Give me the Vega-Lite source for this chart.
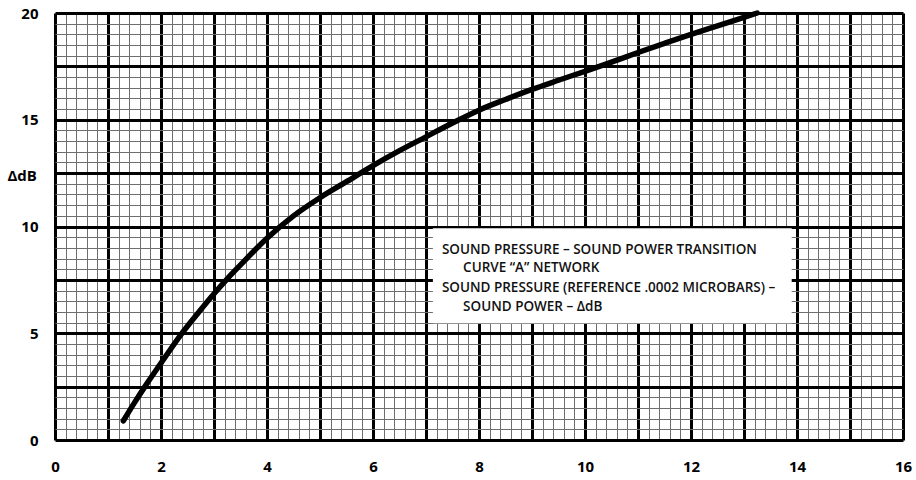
{
  "$schema": "https://vega.github.io/schema/vega-lite/v6.json",
  "width": 848,
  "height": 427,
  "autosize": {"type": "none"},
  "padding": {"left": 55, "top": 13, "right": 13, "bottom": 40},
  "background": "white",
  "view": {"stroke": null},
  "datasets": {
    "curve": [
      {"x": 1.29, "y": 0.9},
      {"x": 1.5, "y": 1.75},
      {"x": 1.75, "y": 2.7},
      {"x": 2.0, "y": 3.6},
      {"x": 2.38, "y": 4.95},
      {"x": 2.7, "y": 5.95},
      {"x": 3.0, "y": 6.85},
      {"x": 3.25, "y": 7.55},
      {"x": 3.5, "y": 8.2},
      {"x": 4.0, "y": 9.45},
      {"x": 4.5, "y": 10.5},
      {"x": 5.0, "y": 11.35},
      {"x": 5.5, "y": 12.1},
      {"x": 6.0, "y": 12.85},
      {"x": 6.5, "y": 13.55},
      {"x": 7.0, "y": 14.2},
      {"x": 7.5, "y": 14.85},
      {"x": 8.0, "y": 15.45},
      {"x": 8.5, "y": 15.95},
      {"x": 9.0, "y": 16.42},
      {"x": 9.5, "y": 16.85},
      {"x": 10.0, "y": 17.27},
      {"x": 10.5, "y": 17.7},
      {"x": 11.0, "y": 18.15},
      {"x": 11.5, "y": 18.58},
      {"x": 12.0, "y": 19.0},
      {"x": 12.5, "y": 19.4},
      {"x": 13.0, "y": 19.8},
      {"x": 13.25, "y": 20.0}
    ],
    "legendBox": [
      {"x1": 7.13, "x2": 13.9, "y1": 5.47, "y2": 9.92}
    ],
    "legendText": [
      {"x": 7.3, "y": 8.9, "text": "SOUND PRESSURE – SOUND POWER TRANSITION"},
      {"x": 7.7, "y": 8.04, "text": "CURVE “A” NETWORK"},
      {"x": 7.3, "y": 7.11, "text": "SOUND PRESSURE (REFERENCE .0002 MICROBARS) –"},
      {"x": 7.7, "y": 6.24, "text": "SOUND POWER – ΔdB"}
    ]
  },
  "layer": [
    {
      "data": {"name": "legendBox"},
      "mark": {"type": "rect", "color": "white", "strokeWidth": 0},
      "encoding": {
        "x": {
          "field": "x1",
          "type": "quantitative",
          "scale": {"domain": [0, 16], "nice": false, "zero": false},
          "axis": {
            "values": [0, 0.2, 0.4, 0.6, 0.8, 1, 1.2, 1.4, 1.6, 1.8, 2, 2.2, 2.4, 2.6, 2.8, 3, 3.2, 3.4, 3.6, 3.8, 4, 4.2, 4.4, 4.6, 4.8, 5, 5.2, 5.4, 5.6, 5.8, 6, 6.2, 6.4, 6.6, 6.8, 7, 7.2, 7.4, 7.6, 7.8, 8, 8.2, 8.4, 8.6, 8.8, 9, 9.2, 9.4, 9.6, 9.8, 10, 10.2, 10.4, 10.6, 10.8, 11, 11.2, 11.4, 11.6, 11.8, 12, 12.2, 12.4, 12.6, 12.8, 13, 13.2, 13.4, 13.6, 13.8, 14, 14.2, 14.4, 14.6, 14.8, 15, 15.2, 15.4, 15.6, 15.8, 16],
            "tickCount": 500,
            "title": null,
            "domain": false,
            "ticks": false,
            "grid": true,
            "gridColor": {"condition": {"test": "datum.value % 1 === 0", "value": "#000000"}, "value": "#6e6e6e"},
            "gridWidth": {"condition": {"test": "datum.value % 1 === 0", "value": 3}, "value": 1},
            "gridOpacity": 1,
            "labelExpr": "datum.value % 2 === 0 ? '' + datum.value : ''",
            "labelOverlap": false,
            "labelFlush": false,
            "labelBound": false,
            "labelPadding": 19,
            "labelBaseline": "top",
            "labelFont": "Open Sans",
            "labelFontSize": 15,
            "labelFontWeight": "bold",
            "labelColor": "#000000"
          }
        },
        "x2": {"field": "x2"},
        "y": {
          "field": "y1",
          "type": "quantitative",
          "scale": {"domain": [0, 20], "nice": false, "zero": false},
          "axis": {
            "values": [0, 0.5, 1, 1.5, 2, 2.5, 3, 3.5, 4, 4.5, 5, 5.5, 6, 6.5, 7, 7.5, 8, 8.5, 9, 9.5, 10, 10.5, 11, 11.5, 12, 12.5, 13, 13.5, 14, 14.5, 15, 15.5, 16, 16.5, 17, 17.5, 18, 18.5, 19, 19.5, 20],
            "tickCount": 500,
            "title": "ΔdB",
            "titleAngle": 0,
            "titleX": -48,
            "titleY": 162,
            "titleAlign": "left",
            "titleBaseline": "middle",
            "titleFont": "Open Sans",
            "titleFontSize": 15,
            "titleFontWeight": "bold",
            "titleColor": "#000000",
            "domain": false,
            "ticks": false,
            "grid": true,
            "gridColor": {"condition": {"test": "datum.value % 2.5 === 0", "value": "#000000"}, "value": "#6e6e6e"},
            "gridWidth": {"condition": {"test": "datum.value % 2.5 === 0", "value": 3}, "value": 1},
            "gridOpacity": 1,
            "labelExpr": "datum.value % 5 === 0 ? '' + datum.value : ''",
            "labelOverlap": false,
            "labelFlush": false,
            "labelBound": false,
            "labelPadding": 17,
            "labelFont": "Open Sans",
            "labelFontSize": 15,
            "labelFontWeight": "bold",
            "labelColor": "#000000"
          }
        },
        "y2": {"field": "y2"}
      }
    },
    {
      "data": {"name": "legendText"},
      "mark": {
        "type": "text",
        "align": "left",
        "baseline": "middle",
        "font": "Open Sans",
        "fontSize": 13.5,
        "fontWeight": 600,
        "color": "#111111"
      },
      "encoding": {
        "x": {"field": "x", "type": "quantitative"},
        "y": {"field": "y", "type": "quantitative"},
        "text": {"field": "text"}
      }
    },
    {
      "data": {"name": "curve"},
      "mark": {
        "type": "line",
        "color": "#000000",
        "strokeWidth": 5.5,
        "strokeCap": "round",
        "strokeJoin": "round",
        "interpolate": "monotone"
      },
      "encoding": {
        "x": {"field": "x", "type": "quantitative"},
        "y": {"field": "y", "type": "quantitative"}
      }
    }
  ]
}
